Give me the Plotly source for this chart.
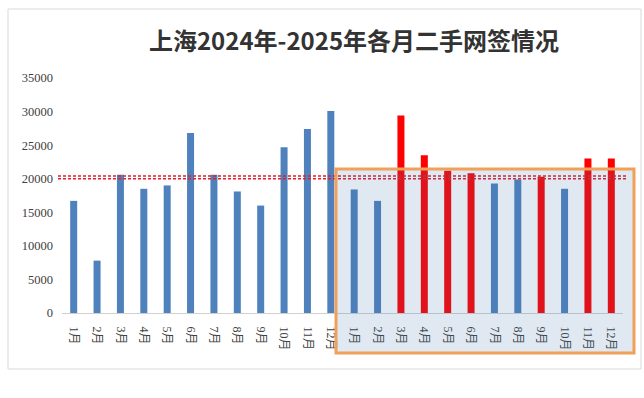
import plotly.graph_objects as go

months = ["1月", "2月", "3月", "4月", "5月", "6月", "7月", "8月", "9月", "10月", "11月", "12月"]
sales_2024 = [16700, 7800, 20600, 18500, 19000, 26800, 20600, 18100, 16000, 24700, 27400, 30100]
sales_2025 = [18400, 16700, 29400, 23500, 21200, 20800, 19300, 19900, 20300, 18500, 23000, 23000]
ref_lines = [20400, 20000]
threshold = 20000
y_ticks = [0, 5000, 10000, 15000, 20000, 25000, 30000, 35000]

W, H = 644, 398
L, R, T, B = 62, 21, 78, 85
pw, ph = W - L - R, H - T - B

def px(x):
    return (x - L) / pw

def py(y):
    return (H - B - y) / ph

BLUE = "#4f81bd"
RED = "#ff0000"

labels = months + months
values = sales_2024 + sales_2025
idx = list(range(len(values)))
colors = [BLUE] * len(sales_2024) + [RED if v > threshold else BLUE for v in sales_2025]

fig = go.Figure(go.Bar(x=idx, y=values, marker=dict(color=colors, line=dict(width=0)), width=0.3))

shapes = []
for v in ref_lines:
    shapes.append(dict(type="line", xref="paper", yref="y", x0=px(58), x1=px(626), y0=v, y1=v,
                       line=dict(color="#e0202a", width=1.5, dash="3px,2px"), layer="above"))
# highlight box
shapes.append(dict(type="rect", xref="paper", yref="paper", x0=px(336), x1=px(634), y0=py(353), y1=py(169),
                   line=dict(color="#f0a058", width=3), fillcolor="rgba(60,118,175,0.16)", layer="above"))
# outer frame
shapes.append(dict(type="rect", xref="paper", yref="paper", x0=px(8), x1=px(641), y0=py(369), y1=py(9),
                   line=dict(color="#d9d9d9", width=1), fillcolor="rgba(0,0,0,0)", layer="below"))

fig.update_layout(
    width=W, height=H,
    margin=dict(l=L, r=R, t=T, b=B),
    paper_bgcolor="white", plot_bgcolor="white",
    showlegend=False,
    shapes=shapes,
    title=dict(text="<b>上海2024年-2025年各月二手网签情况</b>", x=354 / W, xanchor="center",
               y=1 - 42 / H, yanchor="middle",
               font=dict(family="Noto Sans CJK SC", size=24, color="#333333")),
    xaxis=dict(range=[-0.5, len(values) - 0.5], tickmode="array", tickvals=idx, ticktext=labels,
               tickangle=90, showgrid=False, zeroline=False, showline=True, linecolor="#d0d0d0",
               linewidth=1, ticks="", ticklabelstandoff=10,
               tickfont=dict(family="Liberation Serif, Noto Sans CJK SC", size=12, color="#404040")),
    yaxis=dict(range=[0, 35000], tickmode="array", tickvals=y_ticks, ticktext=[str(t) for t in y_ticks],
               showgrid=False, zeroline=False, showline=False, ticks="",
               tickfont=dict(family="Liberation Serif", size=12.5, color="#404040"), ticklabelstandoff=8),
    bargap=0.7,
)

fig.write_html("out.html", config={"displayModeBar": False},
               post_script="document.body.style.margin='0';document.body.style.overflow='hidden';")
